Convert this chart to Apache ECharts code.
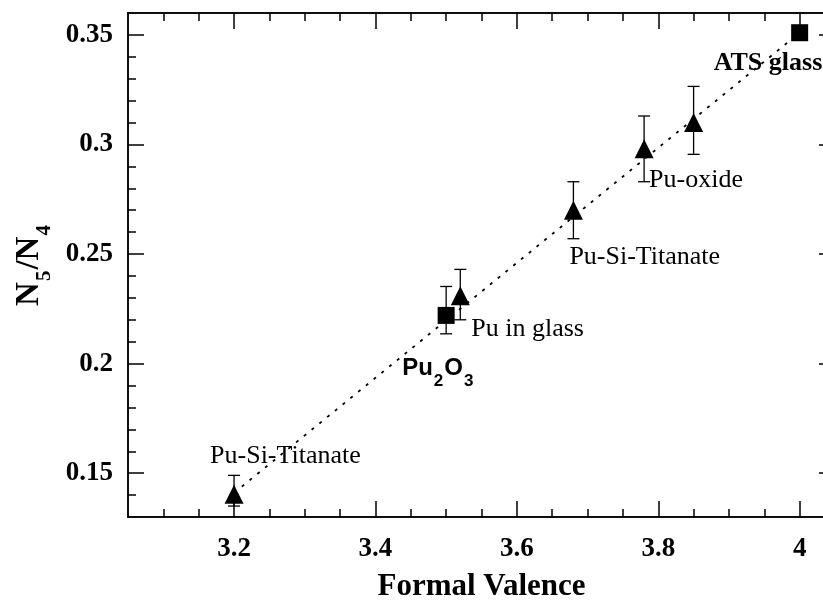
<!DOCTYPE html>
<html>
<head>
<meta charset="utf-8">
<script src="https://cdn.jsdelivr.net/npm/echarts@6/dist/echarts.min.js"></script>
<style>
  html, body { margin: 0; padding: 0; background: #fff; }
  #chart { width: 823px; height: 600px; }
</style>
</head>
<body>
<div id="chart"></div>
<script>
// Tick positions
const xMajorTicks = [3.2, 3.4, 3.6, 3.8, 4.0];
const xMinorTicks = [3.1, 3.15, 3.25, 3.3, 3.35, 3.45, 3.5, 3.55, 3.65, 3.7, 3.75, 3.85, 3.9, 3.95];
const yMajorTicks = [0.15, 0.2, 0.25, 0.3, 0.35];
const yMinorTicks = [0.14, 0.16, 0.17, 0.18, 0.19, 0.21, 0.22, 0.23, 0.24, 0.26, 0.27, 0.28, 0.29,
                     0.31, 0.32, 0.33, 0.34];

// Triangles: measured samples
const triX    = [3.2,   3.52,  3.68,  3.78,  3.85];
const triY    = [0.1404, 0.231, 0.270, 0.298, 0.310];
const triLow  = [0.135, 0.220, 0.257, 0.283, 0.2955];
const triHigh = [0.149, 0.243, 0.283, 0.313, 0.3265];
const triNames = ['Pu-Si-Titanate', 'Pu in glass', 'Pu-Si-Titanate', 'Pu-oxide', ''];

// Squares: reference compounds
const sqX    = [3.5,   4.0];
const sqY    = [0.222, 0.351];
const sqLow  = [0.2136, null];
const sqHigh = [0.2352, null];
const sqNames = ['Pu2O3', 'ATS glass'];

// Linear trend end points
const fitX = [3.2, 4.0];
const fitY = [0.141, 0.351];

const SERIF = '"Liberation Serif", "Times New Roman", serif';
const SANS = '"Liberation Sans", Arial, sans-serif';
const BLACK = '#000';

// Label placement (pixel offsets from each marker centre)
const triLabelOffsets = [[-24, -38], [11, 33], [-4, 47], [5, 31], [0, 0]];
const sqLabelOffsets = [[-44, 41], [-86, 31]];

const annoText = { fontFamily: SERIF, fontSize: 26, color: BLACK };

const triData = triX.map((x, i) => ({
  value: [x, triY[i]],
  label: {
    show: !!triNames[i],
    formatter: triNames[i],
    position: 'inside',
    align: 'left',
    verticalAlign: 'middle',
    offset: triLabelOffsets[i],
    ...annoText
  }
}));

const sqData = sqX.map((x, i) => {
  const item = { value: [x, sqY[i]] };
  if (sqNames[i] === 'Pu2O3') {
    item.label = {
      show: true,
      position: 'inside',
      align: 'left',
      verticalAlign: 'top',
      offset: sqLabelOffsets[i],
      formatter: '{m|Pu}{s|2}{m|O}{s|3}',
      rich: {
        m: { fontFamily: SANS, fontWeight: 'bold', fontSize: 24, lineHeight: 24, color: BLACK, verticalAlign: 'top' },
        s: { fontFamily: SANS, fontWeight: 'bold', fontSize: 17, lineHeight: 17, color: BLACK, verticalAlign: 'top', padding: [16, 1, 0, 1] }
      }
    };
  } else {
    item.label = {
      show: true,
      position: 'inside',
      align: 'left',
      verticalAlign: 'middle',
      offset: sqLabelOffsets[i],
      formatter: sqNames[i],
      ...annoText,
      fontWeight: 'bold'
    };
  }
  return item;
});

const errData = [];
triX.forEach((x, i) => errData.push([x, triLow[i], triHigh[i]]));
sqX.forEach((x, i) => { if (sqLow[i] != null) errData.push([x, sqLow[i], sqHigh[i]]); });

const xMin = 3.05, xMax = 4.05, yMin = 0.13, yMax = 0.36;
const axisLineStyle = { color: BLACK, width: 1.5 };
const tickLabel = { fontFamily: SERIF, fontWeight: 'bold', fontSize: 27, color: BLACK };

function frameAxis(position, ticks, length, extra) {
  const horizontal = position === 'bottom' || position === 'top';
  return Object.assign({
    type: 'value',
    position: position,
    min: horizontal ? xMin : yMin,
    max: horizontal ? xMax : yMax,
    axisLine: { show: true, onZero: false, lineStyle: axisLineStyle },
    axisTick: { show: true, inside: true, length: length, customValues: ticks, lineStyle: { color: BLACK, width: 1.5 } },
    axisLabel: { show: false },
    splitLine: { show: false },
    minorTick: { show: false }
  }, extra || {});
}

const chart = echarts.init(document.getElementById('chart'), null, { renderer: 'canvas' });

chart.setOption({
  backgroundColor: '#fff',
  animation: false,
  grid: { left: 128, top: 13, width: 707, height: 504, containLabel: false, outerBoundsMode: 'none' },
  xAxis: [
    frameAxis('bottom', xMajorTicks, 16, {
      axisLabel: { show: true, customValues: xMajorTicks, margin: 19, ...tickLabel,
        formatter: v => String(Math.round(v * 10) / 10) },
      name: 'Formal Valence',
      nameLocation: 'middle',
      nameGap: 54,
      nameTextStyle: { fontFamily: SERIF, fontWeight: 'bold', fontSize: 31, color: BLACK }
    }),
    frameAxis('bottom', xMinorTicks, 8),
    frameAxis('top', xMajorTicks, 16),
    frameAxis('top', xMinorTicks, 8)
  ],
  yAxis: [
    frameAxis('left', yMajorTicks, 16, {
      axisLabel: { show: true, customValues: yMajorTicks, margin: 15, ...tickLabel,
        formatter: v => String(Math.round(v * 100) / 100) },
      name: '{n|N}{s|5}{n|/N}{s|4}',
      nameLocation: 'middle',
      nameGap: 82,
      nameTextStyle: {
        rich: {
          n: { fontFamily: SERIF, fontWeight: 'bold', fontSize: 33, lineHeight: 33, color: BLACK, verticalAlign: 'top' },
          s: { fontFamily: SERIF, fontWeight: 'bold', fontSize: 21, lineHeight: 21, color: BLACK, verticalAlign: 'top', padding: [21, 1, 0, 1] }
        }
      }
    }),
    frameAxis('left', yMinorTicks, 8),
    frameAxis('right', yMajorTicks, 16),
    frameAxis('right', yMinorTicks, 8)
  ],
  series: [
    {
      name: 'trend',
      type: 'line',
      data: fitX.map((x, i) => [x, fitY[i]]),
      showSymbol: false,
      symbol: 'none',
      lineStyle: { color: BLACK, width: 1.8, type: [3, 7] },
      z: 1,
      silent: true
    },
    {
      name: 'error',
      type: 'custom',
      data: errData,
      encode: { x: 0, y: [1, 2] },
      renderItem: function (params, api) {
        const x = api.value(0);
        const lo = api.coord([x, api.value(1)]);
        const hi = api.coord([x, api.value(2)]);
        const w = 6;
        const style = { stroke: BLACK, lineWidth: 1.3, fill: null };
        return {
          type: 'group',
          children: [
            { type: 'line', shape: { x1: lo[0], y1: lo[1], x2: hi[0], y2: hi[1] }, style: style },
            { type: 'line', shape: { x1: lo[0] - w, y1: lo[1], x2: lo[0] + w, y2: lo[1] }, style: style },
            { type: 'line', shape: { x1: hi[0] - w, y1: hi[1], x2: hi[0] + w, y2: hi[1] }, style: style }
          ]
        };
      },
      z: 2,
      silent: true
    },
    {
      name: 'samples',
      type: 'scatter',
      data: triData,
      symbol: 'triangle',
      symbolSize: 19,
      itemStyle: { color: BLACK, opacity: 1 },
      z: 3
    },
    {
      name: 'references',
      type: 'scatter',
      data: sqData,
      symbol: 'rect',
      symbolSize: 17,
      itemStyle: { color: BLACK, opacity: 1 },
      z: 3
    }
  ]
});
</script>
</body>
</html>
